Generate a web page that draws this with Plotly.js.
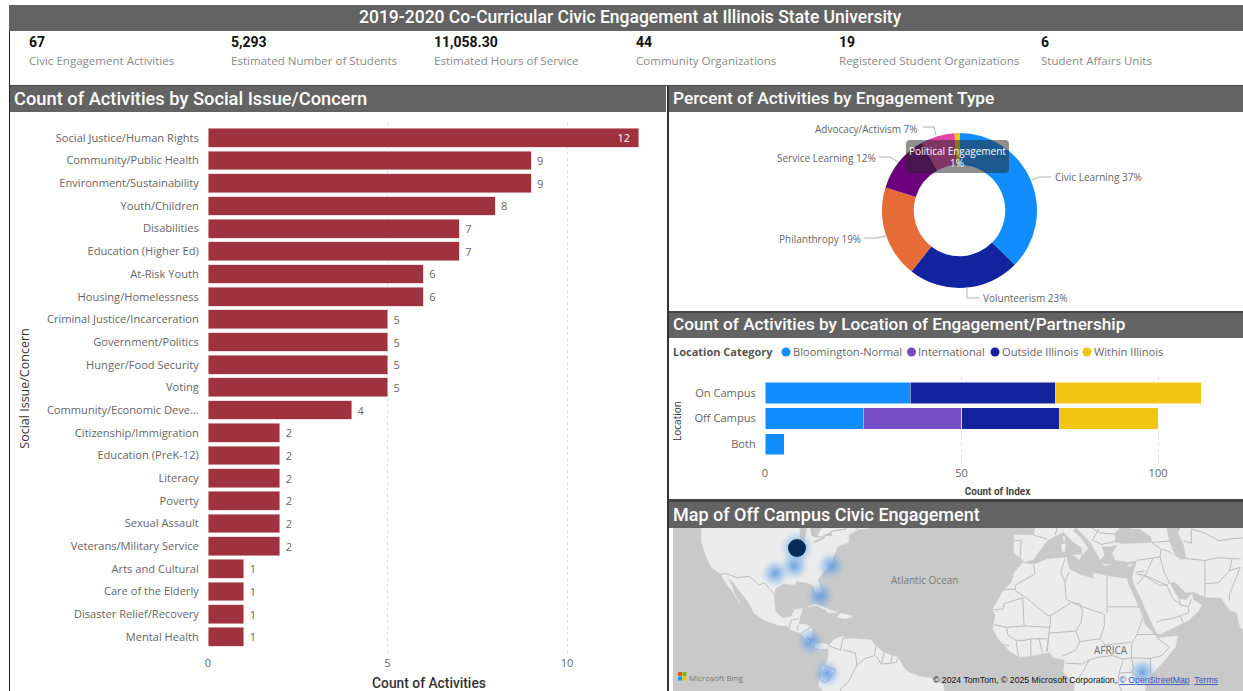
<!DOCTYPE html>
<html><head><meta charset="utf-8">
<script src="https://cdn.plot.ly/plotly-3.0.1.min.js"></script>
<style>html,body{margin:0;padding:0;background:#fff;overflow:hidden}#c{width:1243px;height:691px}</style>
</head><body><div id="c"></div>
<script>
// ---------- data ----------
const pageTitle = "2019-2020 Co-Curricular Civic Engagement at Illinois State University";
const kpiValues = ["67","5,293","11,058.30","44","19","6"];
const kpiLabels = ["Civic Engagement Activities","Estimated Number of Students","Estimated Hours of Service","Community Organizations","Registered Student Organizations","Student Affairs Units"];

const issueNames = ["Social Justice/Human Rights","Community/Public Health","Environment/Sustainability","Youth/Children","Disabilities","Education (Higher Ed)","At-Risk Youth","Housing/Homelessness","Criminal Justice/Incarceration","Government/Politics","Hunger/Food Security","Voting","Community/Economic Deve...","Citizenship/Immigration","Education (PreK-12)","Literacy","Poverty","Sexual Assault","Veterans/Military Service","Arts and Cultural","Care of the Elderly","Disaster Relief/Recovery","Mental Health"];
const issueCounts = [12,9,9,8,7,7,6,6,5,5,5,5,4,2,2,2,2,2,2,1,1,1,1];

const engagementTypes = ["Civic Learning","Volunteerism","Philanthropy","Service Learning","Advocacy/Activism","Political Engagement"];
const engagementPct = [37,23,19,12,7,1];

const locations = ["On Campus","Off Campus","Both"];
const bloomingtonNormal = [37,25,5];
const international = [0,25,0];
const outsideIllinois = [37,25,0];
const withinIllinois = [37,25,0];

const mapPlaces = ["Illinois","Dallas","Memphis","North Carolina","Miami","Costa Rica","Ecuador","Kenya"];
const mapLon = [-89,-97,-90,-76.5,-80.5,-84,-78,38];
const mapLat = [40,32.7,34.9,35,25.7,10,-1.4,-1];

// coarse land outlines, [lon,lat]
const northAmerica = [[-140,52],[-124.7,48.4],[-124,46],[-124.2,42],[-122.5,38],[-120.5,34.5],[-117,32.5],[-115.5,30],[-113.5,28],[-110.5,24],[-109.8,23],[-112,26],[-113,29],[-114.6,31.3],[-112.5,30],[-110,27],[-108,25],[-105.5,21.5],[-105,20],[-101,17.5],[-96,15.8],[-93,15.5],[-91,14],[-87.5,13],[-85.7,10.5],[-83.5,8.5],[-81,7.5],[-78,7.6],[-77.3,8.6],[-79.5,9.5],[-81.5,9],[-83.5,10.5],[-83.5,14.8],[-86,16],[-88.5,16],[-88,18.5],[-87,21.5],[-90,21],[-91,18.7],[-94.5,18.2],[-97,20.5],[-97.5,25],[-97,28],[-94,29.5],[-90,29.2],[-89,30.3],[-85,29.7],[-83,29],[-81.8,26],[-80.4,25.2],[-80,27],[-81.4,30.7],[-79,33.5],[-75.7,35.3],[-76,37],[-74,40.5],[-70,41.5],[-70,43.5],[-66.5,45],[-64,45],[-61,45.5],[-60,47],[-66,49.5],[-60,50.5],[-56,52]];
const cuba = [[-85,22],[-82,23.1],[-77,21],[-74.2,20.2],[-77.5,19.9],[-78.5,21],[-82,22.3]];
const hispaniola = [[-74.4,18.5],[-72.8,19.9],[-68.5,18.7],[-71,18]];
const southAmerica = [[-77.3,8.6],[-75.5,10.7],[-72,12],[-71.5,10.9],[-68,11],[-62,10.7],[-60,8.5],[-57,6],[-52,4.5],[-50,1],[-48,-1],[-44,-2.5],[-40,-3],[-35.2,-5.5],[-34.8,-9],[-34.8,-12],[-80,-12],[-79,-8],[-81,-6],[-81,-4.5],[-80,-2.5],[-80,0.5],[-78.5,2],[-77.5,4],[-77.5,7]];
const africa = [[-6,35.8],[-2,35.2],[3,36.8],[10,37.3],[11,34],[15,32.3],[20,31],[20,32.8],[25,31.8],[31,31.2],[32.4,31],[32.5,30],[35,25],[37,21],[39,16],[43,12],[43.5,11.3],[51,12],[50,8],[45,2],[41,-2],[39,-6],[39,-12],[13,-12],[13,-5],[9,-1],[9.5,3.5],[5,4.5],[4,6.3],[-3,5],[-7.5,4.5],[-11,6.8],[-15,11],[-17,14.7],[-16,19],[-17,21],[-13,27.5],[-10,30],[-9,33]];
const eurasia = [[-1,52],[-1.5,49.5],[-4.7,48.3],[-1.2,46],[-1.8,43.4],[-9,43.5],[-9.3,38.7],[-6.3,36.8],[-5.5,36],[-2,36.8],[0,39],[3,42],[6,43.2],[9,44.3],[12,42],[15.8,40],[16,38],[18,40],[15,43],[12.5,44.5],[13.5,45.5],[19,41.5],[22.5,36.7],[24,38],[23,40.5],[26.5,40.5],[29,41],[27,38.5],[28,36.7],[33,36.1],[36,36.5],[35,33],[34.3,31.3],[34.8,29.5],[38,24],[39.2,21],[42.8,14.5],[43.5,12.7],[45,12.8],[52,16],[55,17.5],[58.5,20.5],[59.8,22.5],[56.5,24.5],[56.3,26.2],[54,24.2],[51.5,24.5],[50,26.5],[48,29.8],[50,30],[54,26.7],[57,26.9],[61,25.2],[67,25],[70,21],[72.8,20],[74,15],[80,10],[80,52]];
const islands = [[[12.5,38],[15.5,38.2],[15,36.7]],[[8.3,41],[9.7,41],[9.5,39],[8.5,39]],[[8.7,43],[9.5,43],[9.3,41.5]],[[23.5,35.5],[26.3,35.2],[24,35]],[[32.4,35],[34.5,35.6],[33.5,34.6]],[[-5.5,50],[1,51],[1,53],[-5,53]]];
const lakesAndSeas = [[[-92,46.7],[-88,48.8],[-84.7,47],[-88,46.5]],[[-87.8,42],[-86.3,42],[-85.2,46],[-88,45.5]],[[-84.5,46],[-80,45.3],[-81.8,43],[-83.5,43.3]],[[-83.2,41.7],[-79,42.9],[-79,42.5],[-82,41.5]],[[-79.7,43.4],[-76.3,44],[-76.3,43.3]],[[28,41.6],[28,44],[31,46],[34,45],[37,45],[41,43],[41.5,41.5],[36,41.3],[31,41.2]],[[49,46.5],[47,45],[48,42],[50,38],[52,36.8],[54,37],[53,41],[51,44],[53,46.5]]];
const borders = [
 [[-117,32.5],[-114.7,32.5],[-111,31.3],[-108,31.5],[-106.5,31.8],[-103,29],[-101,29.8],[-97.2,26]],
 [[-124,49],[-95,49],[-89,48],[-84,46.5],[-82.5,43],[-79,43],[-76,44.5],[-71,45],[-69,47.3],[-67,45]],
 [[-92.2,14.5],[-91,17.5],[-89,17.9],[-88.2,18.3]],[[-89,14],[-88.5,15.9]],[[-87.5,13],[-84,15]],[[-85.7,11],[-83.7,10.9]],[[-83,8.3],[-82.6,9.6]],
 [[-77.3,8.6],[-73,7],[-72,11.5]],[[-72,7],[-67.5,6],[-67,1.5],[-70,-4.2]],[[-79,1.5],[-75,0],[-75.5,-1.5],[-78.5,-4.8],[-80.5,-3.5]],[[-70,-4.2],[-73,-7],[-73,-12]],[[-60,8.5],[-60.5,5],[-64,4],[-67,1.5]],[[-57,6],[-58,2]],[[-54,5.5],[-54.5,2.3]],[[-52,4.5],[-52.5,2.5],[-58,2],[-60,5]],
 [[-2,35],[-1.5,32.5],[-8.7,29],[-8.7,27.7],[-13,27.7]],[[-8.7,27.3],[-4.8,25],[3.3,19],[4.2,19],[12,23.5],[14.2,22.6]],[[9.5,37],[8,33],[9.5,30],[10,24.5],[12,23.5]],[[11,33],[9.5,30]],[[25,31.8],[25,20]],[[25,22],[37,22]],[[14.2,22.6],[24,19.5],[24,15.5],[22.5,11],[27,5],[31,3.8]],[[12,23.5],[15,23],[16,20.5],[15.5,16.9],[13.5,13.7],[15,10],[22.5,11]],[[-17,21],[-13,21.3],[-13,23],[-6,25],[-5.5,15.5],[-12,15],[-16.5,16]],[[-5.5,15.5],[4,15],[4.2,19]],[[4,15],[3.5,11.7],[2.8,6.4]],[[3.5,13],[13.5,13.7]],[[2.8,11],[0,11],[-3,11],[-5.5,10.4],[-8.5,10.5],[-11.5,12.4],[-12,15]],[[0,11],[1.2,6.1]],[[-3,11],[-3,5]],[[-8.5,10.5],[-7.5,4.5]],[[-11,8.5],[-13.3,9]],[[3,6.5],[3.5,11.7]],[[8.6,4.8],[13.5,7],[15,10]],[[9.8,2.3],[16,2],[18.5,3.5],[22,4.5],[27,5]],[[18.5,3.5],[16,-1],[13,-5]],[[31,3.8],[29.5,-1],[29,-4.5],[30.5,-8]],[[31,3.8],[34,4.2],[34.8,0],[34,-1],[39,-4.7]],[[34,-1],[29.7,-1.2]],[[34,4.2],[41,4],[41,-1.7]],[[41,4],[45,5],[48,8],[43.2,11.4]],[[34,4.2],[34,9],[36,12.5],[38,18]],[[36,12.5],[43,12.5]],[[24,8.7],[34,9.8]],
 [[-1.8,43.4],[3,42.4]],[[-9,42],[-6.5,42],[-7,37]],[[6,43.5],[7.5,47.5],[8,49],[6,50],[2.5,51]],[[7.5,46],[13.5,46.5],[17,48],[22,48.3],[24,51]],[[13.5,46.5],[19,45.5],[22.5,44],[28.5,43.7]],[[20,42],[23,41],[26.5,41.5]],[[19.5,42],[22,45]],[[22,48.3],[28,45.5],[30,46]],[[26.5,41.5],[28,42]],
 [[36,36.5],[42,37.2],[44.5,37.5],[44.8,39.7],[41.5,41.5]],[[36,32.5],[39,32],[42,37.2]],[[35.5,33],[38.8,33.4]],[[39,32],[47,29],[48,29.8]],[[36,29.3],[39,32],[44,29],[47,29],[49,25],[52,22.7],[55,22],[55,20],[52,19],[49,18],[45,17.5],[43,16.7]],[[52,22.7],[51.5,24.5]],[[55,22],[56,24.5]],[[52,19],[53,16.6]],[[44.5,37.5],[46,33],[48,29.8]],[[44.8,39.7],[48,39],[49,38]],[[54,37],[61,36.5],[61,31.5],[61,25.2]],[[61,36.5],[66,37.3],[71,37],[74,37]],[[61,29.5],[66,29.8],[70,33.5],[71,37]],[[70,33.5],[74,34.5],[70,26],[70,24]],[[53,42],[56,41.3],[56,45],[61,44],[66,42],[71,42.5],[80,43]],[[53,46.5],[47,49],[60,51],[72,52]],[[41.5,41.5],[48,41.9]]
];
// ---------- layout helpers (pixels on the page) ----------
const W=1243,H=691;
const fx=x=>x/W, fy=y=>1-y/H;
const mercator=lat=>Math.log(Math.tan(Math.PI/4+lat*Math.PI/360))*180/Math.PI;
const HEAD='Roboto, sans-serif', BODY='"Open Sans", sans-serif';
const GREY='#666666', BAND='#636363';
const shapes=[], annotations=[];
function rect(x0,y0,x1,y1,fill,layer){shapes.push({type:'rect',xref:'paper',yref:'paper',x0:fx(x0),x1:fx(x1),y0:fy(y0),y1:fy(y1),fillcolor:fill,line:{width:0},layer:layer||'above'});}
function text(x,y,t,size,color,anchor,family,weight){annotations.push({xref:'paper',yref:'paper',x:fx(x),y:fy(y),text:t,showarrow:false,xanchor:anchor||'left',yanchor:'middle',font:{size:size,color:color,family:family||BODY,weight:weight||400},borderpad:0,borderwidth:0});}
function poly(pts,color,w){shapes.push({type:'path',xref:'paper',yref:'paper',path:'M'+pts.map(p=>fx(p[0])+','+fy(p[1])).join(' L'),line:{color:color,width:w},layer:'above'});}

// header bands and rules
rect(9,5,1243,31,BAND);
text(630,17,pageTitle,17.5,'#ffffff','center',HEAD,500);
const kpiX=[29,231,434,636,839,1041];
kpiValues.forEach((v,i)=>{text(kpiX[i],42,'<b>'+v+'</b>',14,'#111111','left',HEAD);text(kpiX[i],60.5,kpiLabels[i],11.55,'#8a8a8a','left',BODY);});
rect(10,86,666,112,BAND);
text(14,98,'Count of Activities by Social Issue/Concern',18.3,'#ffffff','left',HEAD,500);
rect(669,86,1243,112,BAND);
text(673,98,'Percent of Activities by Engagement Type',17.3,'#ffffff','left',HEAD,500);
rect(669,313,1243,338,BAND);
text(673,324,'Count of Activities by Location of Engagement/Partnership',17.2,'#ffffff','left',HEAD,500);
rect(669,502,1243,528,BAND);
text(673,514,'Map of Off Campus Civic Engagement',18,'#ffffff','left',HEAD,500);
rect(9,31,10,691,'#222222');
rect(10,85,1243,86,'#444444');
rect(667,86,669,691,'#333333');
rect(669,311,1243,313,'#444444');
rect(669,499,1243,502,'#444444');

// donut labels and leaders
const donutLabelPos=[[1055,177,'left'],[983,298,'left'],[861,239,'right'],[876,158,'right'],[918,129,'right']];
donutLabelPos.forEach((p,i)=>text(p[0],p[1],engagementTypes[i]+' '+engagementPct[i]+'%',10,GREY,p[2]));
[[[1032,180],[1039,177],[1051,177]],[[967,287],[967,298],[980,298]],[[886,236],[877,238],[864,238]],[[898,162],[890,157],[879,157]],[[936,135],[934,127],[923,127]]].forEach(l=>poly(l,'#b0b0b0',1));
// hover tooltip over the donut
(function(){const a=906,b=1009,c=140,d=173,r=4;
 shapes.push({type:'path',xref:'paper',yref:'paper',layer:'above',line:{width:0},fillcolor:'rgba(40,40,40,0.52)',
  path:`M${fx(a+r)},${fy(c)} L${fx(b-r)},${fy(c)} Q${fx(b)},${fy(c)} ${fx(b)},${fy(c+r)} L${fx(b)},${fy(d-r)} Q${fx(b)},${fy(d)} ${fx(b-r)},${fy(d)} L${fx(a+r)},${fy(d)} Q${fx(a)},${fy(d)} ${fx(a)},${fy(d-r)} L${fx(a)},${fy(c+r)} Q${fx(a)},${fy(c)} ${fx(a+r)},${fy(c)} Z`});
 text(957,151,engagementTypes[5],10,'#ffffff','center');
 text(957,163,engagementPct[5]+'%',10,'#ffffff','center');
})();

// stacked bar legend
const legendColors=['#118DFF','#744EC2','#12239E','#F2C512'];
const legendNames=['Bloomington-Normal','International','Outside Illinois','Within Illinois'];
text(673,352,'<b>Location Category</b>',11,'#555555');
[786,911.5,995,1087].forEach((x,i)=>{
 shapes.push({type:'circle',xref:'paper',yref:'paper',x0:fx(x-4.5),x1:fx(x+4.5),y0:fy(347.5),y1:fy(356.5),fillcolor:legendColors[i],line:{width:0},layer:'above'});
 text(x+6.5,352,legendNames[i],11.1,GREY);
});

// map furniture
shapes.push({type:'rect',xref:'paper',yref:'paper',x0:fx(673),x1:fx(1243),y0:fy(528),y1:fy(691),fillcolor:'#c9c9c9',line:{width:0},layer:'below'});
text(924,580,'Atlantic Ocean',10,'#7a7a7a','center');
text(1111,650,'AFRICA',10,'#6f6f6f','center');
[[678,672,'#F25022'],[682.5,672,'#7FBA00'],[678,676.5,'#00A4EF'],[682.5,676.5,'#FFB900']].forEach(s=>rect(s[0],s[1],s[0]+4,s[1]+4,s[2]));
text(689,677,'Microsoft Bing',8,'#777777');
text(933,680,'© 2024 TomTom, © 2025 Microsoft Corporation, <span style="color:#3355bb;text-decoration:underline">© OpenStreetMap</span>  <span style="color:#3355bb;text-decoration:underline">Terms</span>',8.7,'#111111','left','"Liberation Sans", sans-serif');

// ---------- traces ----------
const traces=[];
traces.push({type:'bar',orientation:'h',x:issueCounts,y:issueNames,xaxis:'x',yaxis:'y',
 marker:{color:'#9F323E',line:{color:'#e6c9cc',width:0.6}},
 text:issueCounts.map((v,i)=>i===0?v+'\u00a0\u00a0':'\u00a0'+v),textposition:issueCounts.map((v,i)=>i===0?'inside':'outside'),insidetextanchor:'end',textangle:0,
 textfont:{size:11,family:BODY,color:issueCounts.map((v,i)=>i===0?'#ffffff':GREY)},cliponaxis:false,constraintext:'none',hoverinfo:'x+y'});

traces.push({type:'pie',labels:engagementTypes,values:engagementPct,sort:false,direction:'clockwise',rotation:0,hole:0.59,
 domain:{x:[fx(882),fx(1037)],y:[fy(288),fy(133)]},textinfo:'none',showlegend:false,
 marker:{colors:['#118DFF','#12239E','#E66C37','#6B007B','#E044A7','#F2C512'],line:{width:0}}});

[[legendNames[0],bloomingtonNormal],[legendNames[1],international],[legendNames[2],outsideIllinois],[legendNames[3],withinIllinois]].forEach((s,i)=>{
 traces.push({type:'bar',orientation:'h',name:s[0],x:s[1],y:locations,xaxis:'x2',yaxis:'y2',showlegend:false,
  marker:{color:legendColors[i],line:{color:'#ffffff',width:0.5}}});
});

const LAND='#ececec', LINE='#bcbcbc';
function fill(ring,color){traces.push({type:'scatter',mode:'lines',xaxis:'x3',yaxis:'y3',x:ring.concat([ring[0]]).map(p=>p[0]),y:ring.concat([ring[0]]).map(p=>mercator(p[1])),fill:'toself',fillcolor:color,line:{color:color,width:0.5},hoverinfo:'skip',showlegend:false});}
[northAmerica,cuba,hispaniola,southAmerica,africa,eurasia].concat(islands).forEach(r=>fill(r,LAND));
lakesAndSeas.forEach(r=>fill(r,'#c9c9c9'));
const bx=[],by=[];
borders.forEach(l=>{l.forEach(p=>{bx.push(p[0]);by.push(mercator(p[1]));});bx.push(null);by.push(null);});
traces.push({type:'scatter',mode:'lines',xaxis:'x3',yaxis:'y3',x:bx,y:by,line:{color:LINE,width:1},hoverinfo:'skip',showlegend:false});
const haloLayer=(size,alpha)=>({type:'scatter',mode:'markers',xaxis:'x3',yaxis:'y3',x:mapLon,y:mapLat.map(mercator),text:mapPlaces,hoverinfo:'text',showlegend:false,
 marker:{size:mapPlaces.map((p,i)=>i===0?size+6:size),color:'rgba(120,180,240,0)',gradient:{type:'radial',color:'rgba(60,135,220,'+alpha+')'},line:{width:0}}});
traces.push(haloLayer(30,0.75),haloLayer(24,0.6));
traces.push({type:'scatter',mode:'markers',xaxis:'x3',yaxis:'y3',x:mapLon.slice(0,1),y:mapLat.slice(0,1).map(mercator),hoverinfo:'skip',showlegend:false,marker:{size:18,color:'#062c57',line:{width:0}}});

// ---------- axes ----------
const tickFont={size:11.1,color:GREY,family:BODY};
const hiddenTicks={ticks:'outside',ticklen:6,tickcolor:'rgba(0,0,0,0)'};
const grid={showgrid:true,gridcolor:'#dcdcdc',griddash:'dot',gridwidth:1,zeroline:false,showline:false,ticks:''};
const layout={width:W,height:H,margin:{l:0,r:0,t:0,b:0},paper_bgcolor:'#ffffff',plot_bgcolor:'rgba(0,0,0,0)',showlegend:false,
 barmode:'stack',bargap:0.17,font:{family:BODY},shapes:shapes,annotations:annotations,
 xaxis:Object.assign({},grid,{domain:[fx(208),fx(650)],range:[0,12.31],anchor:'y',tickvals:[0,5,10],tickfont:tickFont,
  title:{text:'Count of Activities',font:{size:13.8,color:'#333333',family:HEAD,weight:500},standoff:10}}),
 yaxis:Object.assign({domain:[fy(655),fy(122)],range:[22.8,-0.7],type:'category',categoryorder:'array',categoryarray:issueNames,anchor:'x',showgrid:false,zeroline:false,showline:false,tickfont:tickFont,
  tickmode:'array',tickvals:issueNames,ticktext:issueNames,
  title:{text:'Social Issue/Concern',font:{size:12.5,color:'#333333',family:BODY},standoff:14}},hiddenTicks),
 xaxis2:Object.assign({},grid,{domain:[fx(765),fx(1230)],range:[0,118.3],anchor:'y2',tickvals:[0,50,100],tickfont:tickFont,
  title:{text:'<b>Count of Index</b>',font:{size:10,color:'#444444',family:HEAD},standoff:8}}),
 yaxis2:Object.assign({domain:[fy(465),fy(377)],range:[2.82,-0.63],type:'category',categoryorder:'array',categoryarray:locations,anchor:'x2',showgrid:false,zeroline:false,showline:false,tickfont:tickFont,
  title:{text:'Location',font:{size:10,color:'#333333',family:BODY},standoff:10}},hiddenTicks),
 xaxis3:{domain:[fx(673),1],range:[-134.6,75],anchor:'y3',visible:false,fixedrange:true},
 yaxis3:{domain:[0,fy(528)],range:[-7.7,50.9],anchor:'x3',visible:false,fixedrange:true}
};
Plotly.newPlot('c',traces,layout,{displayModeBar:false});
</script></body></html>
